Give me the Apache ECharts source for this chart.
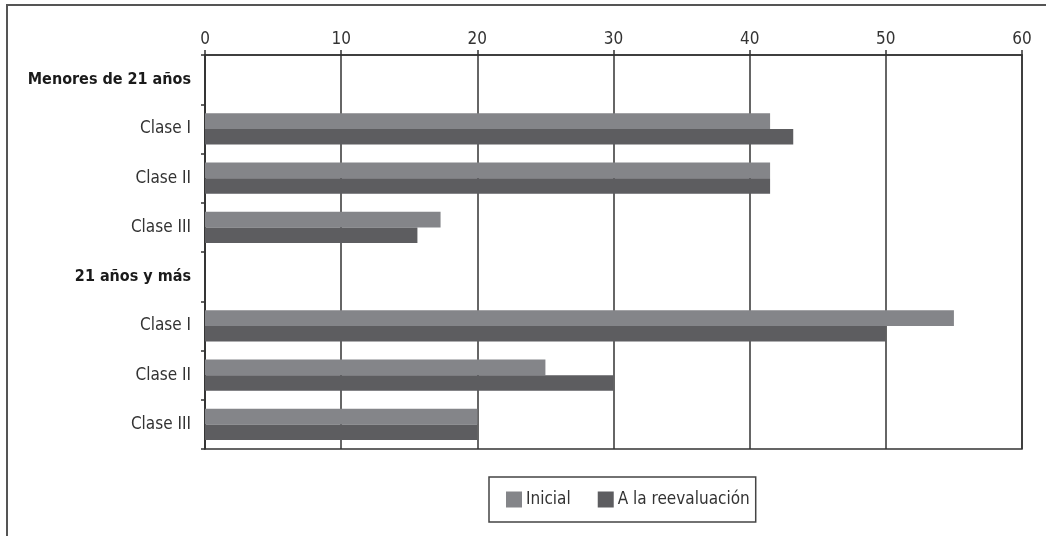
<!DOCTYPE html>
<html>
<head>
<meta charset="utf-8">
<script src="https://cdn.jsdelivr.net/npm/echarts@6/dist/echarts.min.js"></script>
<style>
  html, body { margin: 0; padding: 0; background: #fff; }
  #chart { width: 1046px; height: 536px; }
</style>
</head>
<body>
<div id="chart"></div>
<script>
// Rows from top to bottom; group header rows carry no bars
const categories = ['Menores de 21 años', 'Clase I', 'Clase II', 'Clase III',
                    '21 años y más', 'Clase I', 'Clase II', 'Clase III'];
const headerRows = [0, 4];
const seriesNames = ['Inicial', 'A la reevaluación'];
const inicial = ['-', 41.5, 41.5, 17.3, '-', 55, 25, 20];
const reevaluacion = ['-', 43.2, 41.5, 15.6, '-', 50, 30, 20];
const xTicks = { min: 0, max: 60, interval: 10 };

const FONT = '"DejaVu Sans Condensed", "Liberation Sans Narrow", sans-serif';
const INK = '#333';

const chart = echarts.init(document.getElementById('chart'), null, { renderer: 'canvas' });
chart.setOption({
  animation: false,
  backgroundColor: '#fff',
  textStyle: { fontFamily: FONT },
  graphic: [{
    type: 'rect',
    shape: { x: 7, y: 5, width: 1200, height: 700 },
    style: { fill: 'none', stroke: '#555', lineWidth: 2 },
    silent: true
  }],
  grid: {
    left: 205, right: 24, top: 55, bottom: 87,
    show: true, borderColor: INK, borderWidth: 1.5, backgroundColor: 'transparent'
  },
  legend: {
    data: seriesNames,
    left: 489, top: 477,
    orient: 'horizontal',
    icon: 'rect',
    itemWidth: 16, itemHeight: 16, itemGap: 27,
    padding: [14, 6, 14, 17],
    borderColor: '#444', borderWidth: 1.5,
    textStyle: { fontFamily: FONT, fontSize: 17, color: INK, padding: [0, 0, 0, -1] }
  },
  xAxis: {
    type: 'value',
    position: 'top',
    min: xTicks.min, max: xTicks.max, interval: xTicks.interval,
    axisLine: { show: true, lineStyle: { color: INK, width: 1.5 } },
    axisTick: { show: true, length: 5, lineStyle: { color: INK, width: 1.5 } },
    axisLabel: { fontFamily: FONT, fontSize: 17, color: INK, margin: 7 },
    splitLine: { show: true, lineStyle: { color: INK, width: 1.5 } }
  },
  yAxis: {
    type: 'category',
    data: categories,
    inverse: true,
    axisLine: { show: true, lineStyle: { color: INK, width: 1.5 } },
    axisTick: { show: true, length: 4, lineStyle: { color: INK, width: 1.5 } },
    axisLabel: {
      margin: 14,
      formatter: (v, i) => (headerRows.includes(i) ? '{h|' + v + '}' : '{n|' + v + '}'),
      rich: {
        h: { fontFamily: FONT, fontSize: 16, fontWeight: 'bold', color: '#1a1a1a' },
        n: { fontFamily: FONT, fontSize: 17, color: INK }
      }
    }
  },
  series: [
    {
      name: seriesNames[0], type: 'bar', data: inicial,
      itemStyle: { color: '#848589' },
      barGap: '0%', barCategoryGap: '37%'
    },
    {
      name: seriesNames[1], type: 'bar', data: reevaluacion,
      itemStyle: { color: '#5d5d60' },
      barGap: '0%', barCategoryGap: '37%'
    }
  ]
});
</script>
</body>
</html>
